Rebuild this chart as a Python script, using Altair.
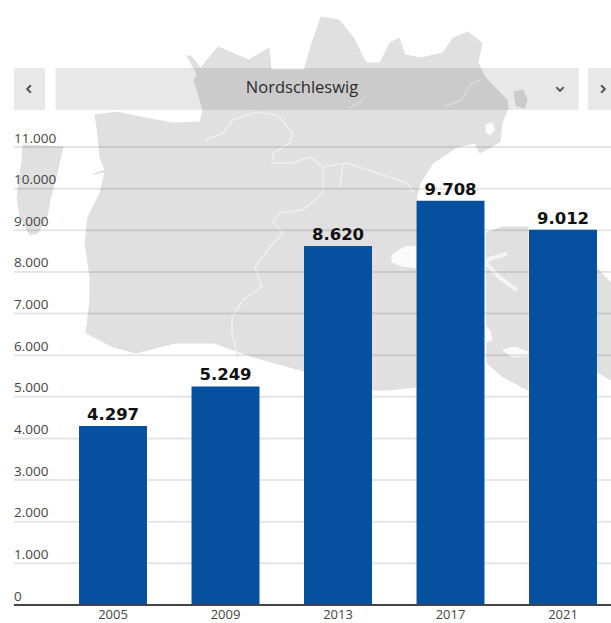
import altair as alt

# Wahlergebnis je Jahr
YEARS = ["2005", "2009", "2013", "2017", "2021"]
VOTES = [4297, 5249, 8620, 9708, 9012]
GRID_VALUES = [1000, 2000, 3000, 4000, 5000, 6000, 7000, 8000, 9000, 10000, 11000]
REGION = "Nordschleswig"

FONT = "Open Sans"
BAR_BLUE = "#05509f"
LAND = "#e0e0e0"
INK = "#444444"

# Backdrop map outlines, in page units
MAINLAND = [
    [95, 115], [117, 112], [140, 117], [173, 123], [200, 122], [203, 110], [194, 80], [203, 65],
    [218, 47], [249, 60], [269, 48], [271, 70], [304, 70], [312, 43], [321, 17], [339, 20],
    [353, 37], [366, 63], [380, 63], [390, 43], [399, 38], [405, 55], [421, 58], [443, 53],
    [453, 38], [468, 32], [482, 43], [478, 63], [485, 77], [507, 100], [508, 108], [502, 123],
    [500, 142], [480, 153], [475, 143], [457, 147], [433, 163], [420, 183], [416, 200],
    [416, 387], [387, 390], [370, 390], [300, 370], [253, 357], [214, 343], [175, 343],
    [136, 353], [113, 347], [86, 333], [90, 300], [90, 277], [85, 243], [88, 217], [100, 193],
    [105, 172], [93, 174], [105, 170], [100, 157], [97, 127],
]
WEST_ISLAND = [
    [23, 145], [63, 147], [57, 173], [50, 200], [47, 217], [38, 233], [30, 235],
    [20, 217], [17, 197], [22, 160],
]
SPIT = [[187, 56], [191, 56], [204, 72], [198, 76]]
SMALL_ISLAND = [[514, 92], [523, 90], [527, 100], [525, 108], [516, 106]]
EAST_ISLAND = [
    [486, 233], [503, 227], [528, 227], [528, 390], [503, 377], [487, 363],
]
FAR_EAST_ISLAND = [[597, 268], [611, 283], [611, 380], [597, 372]]

LAKES = [
    [[392, 255], [404, 247], [416, 246], [416, 268], [402, 266], [392, 262]],
    [[486, 125], [492, 123], [495, 130], [490, 135], [486, 132]],
    [[485, 325], [490, 331], [492, 340], [486, 342]],
    [[503, 350], [515, 347], [528, 352], [528, 356], [512, 357]],
]
STRAITS = [
    [[485, 262], [492, 258], [507, 254]],
    [[485, 262], [500, 278], [517, 290]],
]
BORDERS = [
    [[205, 140], [223, 133], [233, 120], [257, 112], [277, 115], [293, 133], [290, 143], [273, 153],
     [272, 163], [293, 163], [310, 157], [323, 167], [323, 193], [303, 210], [280, 213], [273, 222],
     [283, 233], [270, 247], [255, 267], [262, 287], [243, 300], [232, 317], [232, 333], [238, 357]],
    [[323, 167], [347, 163], [377, 173], [407, 183], [414, 193]],
    [[343, 163], [340, 187]],
    [[350, 108], [363, 100]],
    [[445, 106], [462, 100], [470, 85], [481, 79]],
]


def polygons(rings):
    return alt.Data(values=[
        {"type": "Feature", "properties": {}, "geometry": {"type": "Polygon", "coordinates": [r + [r[0]]]}}
        for r in rings
    ])


def paths(lines):
    return alt.Data(values=[
        {"type": "Feature", "properties": {}, "geometry": {"type": "LineString", "coordinates": l}}
        for l in lines
    ])


PAGE = dict(type="identity", scale=1, translate=[0, 0], reflectY=False)

land = alt.Chart(polygons([MAINLAND, WEST_ISLAND, SPIT, SMALL_ISLAND, EAST_ISLAND, FAR_EAST_ISLAND])).mark_geoshape(
    fill=LAND, stroke=LAND, strokeWidth=1
).project(**PAGE)
lakes = alt.Chart(polygons(LAKES)).mark_geoshape(fill="#fbfbfb", stroke="#fbfbfb", strokeWidth=1).project(**PAGE)
straits = alt.Chart(paths(STRAITS)).mark_geoshape(filled=False, stroke="#f4f4f4", strokeWidth=4).project(**PAGE)
borders = alt.Chart(paths(BORDERS)).mark_geoshape(
    filled=False, stroke="#eeeeee", strokeWidth=1.6
).project(**PAGE)


def band(x0, x1):
    return alt.Chart(alt.Data(values=[{}])).mark_rect(color="black", opacity=0.09).encode(
        x=alt.value(x0), x2=alt.value(x1), y=alt.value(68), y2=alt.value(110)
    )


def chevron(px, shape):
    return alt.Chart(alt.Data(values=[{}])).mark_point(
        shape=shape, size=56, filled=False, stroke="#555555", strokeWidth=2, opacity=1
    ).encode(x=alt.value(px), y=alt.value(89))


chrome = [
    band(14, 45), band(55.5, 578.5), band(588, 611),
    chevron(29, "M0.5,-1L-0.5,0L0.5,1"),
    chevron(560, "M-1,-0.5L0,0.5L1,-0.5"),
    chevron(603, "M-0.5,-1L0.5,0L-0.5,1"),
]
title = alt.Chart(alt.Data(values=[{"t": REGION}])).mark_text(
    font=FONT, fontSize=16.5, color="#2b2b2b"
).encode(text="t:N", x=alt.value(302), y=alt.value(88))

y_scale = alt.Scale(domain=[0, 11000], range=[605, 147])
x_scale = alt.Scale(domain=YEARS, range=[56.75, 619.25], paddingInner=0.396, paddingOuter=0.198)

x_enc = alt.X(
    "year:N", sort=YEARS, scale=x_scale, title=None,
    axis=alt.Axis(
        domain=False, ticks=False, labelAngle=0, labelFont=FONT, labelFontSize=13,
        labelColor=INK, labelPadding=-15,
    ),
)
# Value labels sit just above their gridlines and stay readable over the map
y_axis = alt.Axis(
    values=[0] + GRID_VALUES, domain=False, ticks=False, grid=False, zindex=1,
    labelAlign="left", labelBaseline="middle", labelOffset=-9, labelPadding=-13.5,
    labelFont=FONT, labelFontSize=13.5, labelColor=INK,
    labelExpr="replace(format(datum.value, ',d'), ',', '.')",
)
y_enc = alt.Y("votes:Q", scale=y_scale, title=None, axis=y_axis)
rule_y = alt.Y("v:Q", scale=y_scale, title=None, axis=y_axis)

grid = alt.Chart(alt.Data(values=[{"v": v} for v in GRID_VALUES])).mark_rule(
    color="black", opacity=0.1, strokeWidth=2
).encode(x=alt.value(14), x2=alt.value(611), y=rule_y)

table = alt.Data(values=[{"year": y, "votes": v} for y, v in zip(YEARS, VOTES)])
bars = alt.Chart(table).mark_bar(color=BAR_BLUE).encode(x=x_enc, y=y_enc)
values = alt.Chart(table).transform_calculate(
    shown="replace(format(datum.votes, ',d'), ',', '.')"
).mark_text(
    font="DejaVu Sans", fontWeight="bold", fontSize=16.5, color="#111111", baseline="bottom", dy=-3
).encode(x=x_enc, y=y_enc, text="shown:N")
baseline = alt.Chart(alt.Data(values=[{"v": 0}])).mark_rule(color="#444444", strokeWidth=2).encode(
    x=alt.value(14), x2=alt.value(611), y=rule_y
)

chart = alt.layer(
    land, lakes, straits, borders, *chrome, title, grid, bars, values, baseline
).properties(
    width=611, height=623, padding=0, autosize=alt.AutoSizeParams(type="none"),
    background="white",
).configure_view(stroke=None)

chart.save("out.html", embed_options={"renderer": "svg", "actions": False})
